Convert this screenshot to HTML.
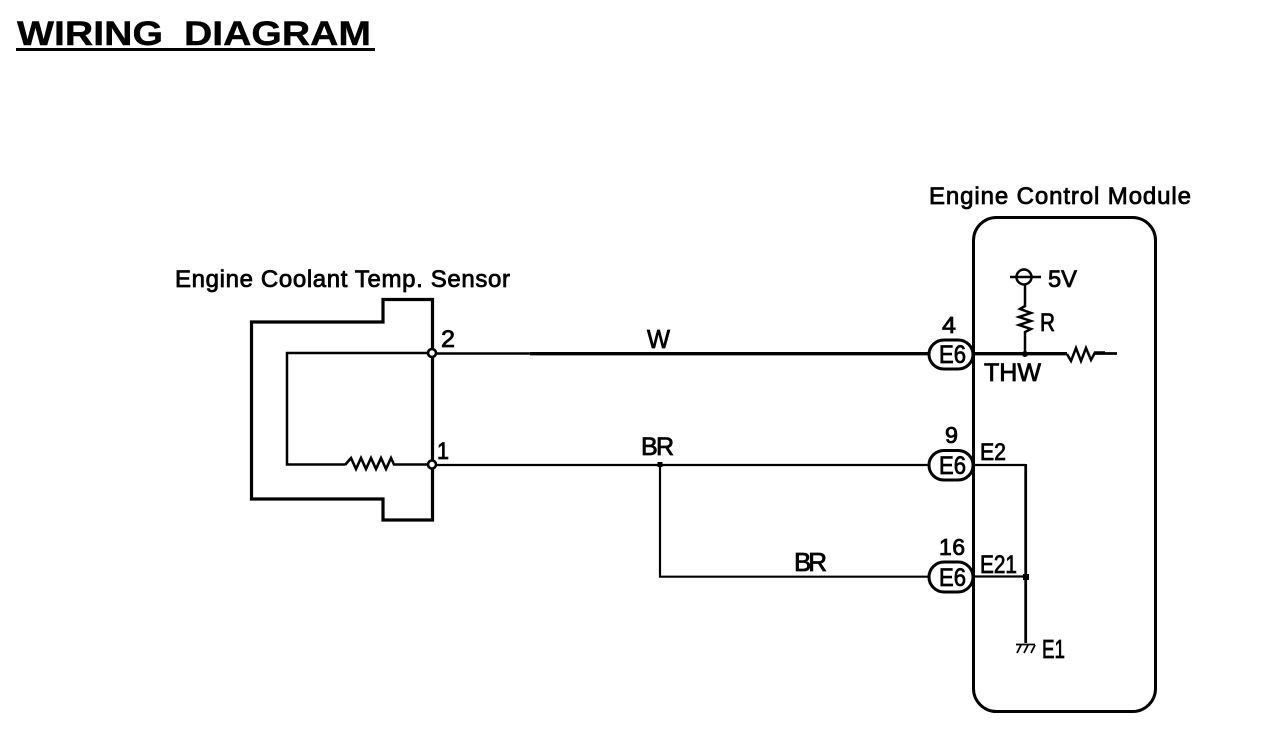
<!DOCTYPE html>
<html lang="en">
<head>
<meta charset="utf-8">
<title>Wiring Diagram</title>
<style>
html,body{margin:0;padding:0;background:#fff;width:1264px;height:752px;overflow:hidden}
svg{display:block}
text{font-family:"Liberation Sans",sans-serif;fill:#000;stroke:#000;stroke-width:.8}
.w{fill:none;stroke:#000;stroke-linejoin:miter}
</style>
</head>
<body>
<svg width="1264" height="752" viewBox="0 0 1264 752" xmlns="http://www.w3.org/2000/svg">
<!-- Title -->
<text x="17" y="45" font-size="34" font-weight="700" textLength="146" lengthAdjust="spacingAndGlyphs" style="stroke-width:.4">WIRING</text>
<text x="184" y="45" font-size="34" font-weight="700" textLength="187" lengthAdjust="spacingAndGlyphs" style="stroke-width:.4">DIAGRAM</text>
<rect x="16" y="48" width="359" height="3" fill="#000"/>

<!-- Sensor housing -->
<path class="w" stroke-width="3.200" d="M383 322V299.500H432.500V520H383V499H251.500V322Z"/>
<path class="w" stroke-width="2.500" d="M432 353H287V464.500H345"/>
<path class="w" stroke-width="2.600" d="M345 465L351 458L356 469L361 458L366 469L371 458L376 469L381 458L386 469L391 458L394 464.500H432"/>
<circle cx="432" cy="353" r="4" fill="#fff" stroke="#000" stroke-width="2.600"/>
<circle cx="432" cy="464.500" r="4" fill="#fff" stroke="#000" stroke-width="2.600"/>

<!-- Harness wires -->
<path class="w" stroke-width="2.500" d="M436 353.500H535"/>
<path class="w" stroke-width="3.400" d="M530 353.700H930"/>
<path class="w" stroke-width="2.200" d="M436 465H930"/>
<path class="w" stroke-width="2.200" d="M660 465V576.700H930"/>
<rect x="657.500" y="462" width="5" height="5" fill="#000"/>

<!-- ECM -->
<rect x="973.500" y="217.500" width="182" height="494" rx="23" ry="23" class="w" stroke-width="3"/>

<!-- Connectors -->
<rect x="929" y="340" width="44" height="29" rx="15" ry="14.500" fill="#fff" stroke="#000" stroke-width="3"/>
<rect x="929" y="450.500" width="44" height="29.500" rx="15" ry="14.500" fill="#fff" stroke="#000" stroke-width="3"/>
<rect x="929" y="562" width="44" height="30" rx="15" ry="15" fill="#fff" stroke="#000" stroke-width="3"/>
<text x="939" y="363" font-size="25" textLength="27" lengthAdjust="spacingAndGlyphs">E6</text>
<text x="939" y="474" font-size="25" textLength="27" lengthAdjust="spacingAndGlyphs">E6</text>
<text x="939" y="586" font-size="25" textLength="27" lengthAdjust="spacingAndGlyphs">E6</text>

<!-- ECM internals: THW -->
<path class="w" stroke-width="3.400" d="M973 353.700H1067"/>
<path class="w" stroke-width="2.500" d="M1067 354L1071 361L1076 348L1081 361L1086 348L1091 360L1095 352.500H1105"/>
<path class="w" stroke-width="2.800" d="M1095 353.500H1117"/>
<path class="w" stroke-width="2.500" d="M1010 277H1041"/>
<circle cx="1024" cy="277" r="7.500" fill="none" stroke="#000" stroke-width="2.500"/>
<path class="w" stroke-width="2.500" d="M1025 285V306L1020 309L1031 313L1019 317L1031 321L1019 325L1031 329L1025 332V354"/>
<circle cx="1025" cy="354" r="3" fill="#000"/>

<!-- ECM internals: ground -->
<path class="w" stroke-width="2.200" d="M973 465H1025.700"/>
<path class="w" stroke-width="2.800" d="M1025.700 464V643"/>
<path class="w" stroke-width="2.200" d="M973 576.500H1026"/>
<rect x="1023" y="574" width="6" height="6" fill="#000"/>
<path class="w" stroke-width="1.800" d="M1016 644.500H1035M1021 645L1017 653M1028 645L1024 653M1035 645L1031 653"/>

<!-- Labels -->
<text x="175" y="287" font-size="24" textLength="335" lengthAdjust="spacing">Engine Coolant Temp. Sensor</text>
<text x="929" y="204" font-size="24" textLength="262" lengthAdjust="spacing">Engine Control Module</text>
<text x="441" y="347" font-size="24" textLength="14" lengthAdjust="spacingAndGlyphs">2</text>
<text x="437" y="459" font-size="24" textLength="12" lengthAdjust="spacingAndGlyphs">1</text>
<text x="647" y="348" font-size="26" textLength="23" lengthAdjust="spacingAndGlyphs">W</text>
<text x="641" y="455" font-size="25" textLength="33" lengthAdjust="spacing">BR</text>
<text x="794" y="571" font-size="26" textLength="33" lengthAdjust="spacing">BR</text>
<text x="942" y="333" font-size="23" textLength="14" lengthAdjust="spacingAndGlyphs">4</text>
<text x="945" y="443" font-size="23" textLength="13" lengthAdjust="spacingAndGlyphs">9</text>
<text x="939" y="555" font-size="23" textLength="26" lengthAdjust="spacing">16</text>
<text x="1048" y="287" font-size="24" textLength="29" lengthAdjust="spacingAndGlyphs">5V</text>
<text x="1040" y="331" font-size="25" textLength="15" lengthAdjust="spacingAndGlyphs">R</text>
<text x="984" y="381" font-size="25" textLength="57" lengthAdjust="spacingAndGlyphs">THW</text>
<text x="980" y="460" font-size="24" textLength="26" lengthAdjust="spacingAndGlyphs">E2</text>
<text x="980" y="573" font-size="25" textLength="37" lengthAdjust="spacingAndGlyphs">E21</text>
<text x="1042" y="658" font-size="26" textLength="23" lengthAdjust="spacingAndGlyphs">E1</text>
</svg>
</body>
</html>
